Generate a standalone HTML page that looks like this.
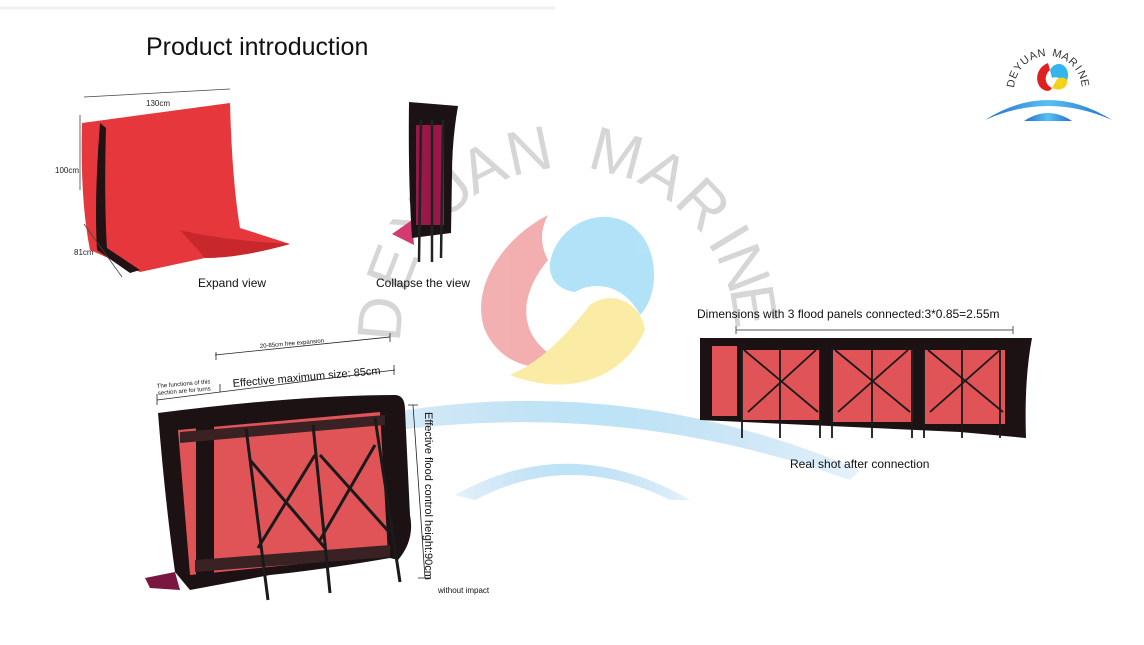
<!DOCTYPE html>
<html><head><meta charset="utf-8"><style>
body{margin:0;background:#fff;width:1144px;height:645px;overflow:hidden}
svg{display:block}
text{font-family:"Liberation Sans",sans-serif}
</style></head><body>
<svg width="1144" height="645" viewBox="0 0 1144 645" xmlns="http://www.w3.org/2000/svg">
<defs>
<linearGradient id="bl" x1="0" x2="1"><stop offset="0" stop-color="#5aa8e0" stop-opacity="0.15"/><stop offset="0.5" stop-color="#8fd0f0" stop-opacity="0.6"/><stop offset="1" stop-color="#5aa8e0" stop-opacity="0.15"/></linearGradient>
<linearGradient id="bl2" x1="0" x2="1"><stop offset="0" stop-color="#1f6fd0"/><stop offset="0.5" stop-color="#5ac0f0"/><stop offset="1" stop-color="#1f6fd0"/></linearGradient>
</defs>
<line x1="0" y1="8" x2="555" y2="8" stroke="#f0f0f0" stroke-width="3"/>
<!-- watermark -->
<g fill="#d6d6d6" font-size="62" text-anchor="middle">
<text x="568" y="168" transform="rotate(-85 568 335)">D</text>
<text x="568" y="168" transform="rotate(-69 568 335)">E</text>
<text x="568" y="168" transform="rotate(-53 568 335)">Y</text>
<text x="568" y="168" transform="rotate(-40 568 335)">U</text>
<text x="568" y="168" transform="rotate(-27 568 335)">A</text>
<text x="568" y="168" transform="rotate(-12 568 335)">N</text>
<text x="568" y="168" transform="rotate(15 568 335)">M</text>
<text x="568" y="168" transform="rotate(31 568 335)">A</text>
<text x="568" y="168" transform="rotate(46 568 335)">R</text>
<text x="568" y="168" transform="rotate(59 568 335)">I</text>
<text x="568" y="168" transform="rotate(69 568 335)">N</text>
<text x="568" y="168" transform="rotate(81 568 335)">E</text>
</g>
<!-- logo watermark -->
<g opacity="0.4">
<path d="M548 215 C500 240 470 290 485 330 C500 365 540 375 560 360 C520 340 515 300 548 260 C540 245 540 230 548 215Z" fill="#e23a3a"/>
<path d="M550 262 C560 215 620 200 645 240 C660 265 655 300 640 315 C625 285 595 280 575 292 C560 290 548 280 550 262Z" fill="#3fb8ee"/>
<path d="M510 375 C560 395 620 385 645 330 C640 300 610 290 590 305 C570 330 545 360 510 375Z" fill="#f5d020"/>
</g>
<path d="M330 425 Q600 360 860 470 L850 480 Q600 390 335 440Z" fill="url(#bl)"/>
<path d="M455 495 Q570 430 690 500 L670 500 Q570 450 475 500Z" fill="url(#bl)"/>
<!-- title -->
<text x="146" y="55" font-size="25" fill="#111">Product introduction</text>
<!-- top logo -->
<g font-size="11" fill="#333" text-anchor="middle">
<text x="1048" y="56" transform="rotate(-80 1048 90)">D</text>
<text x="1048" y="56" transform="rotate(-66 1048 90)">E</text>
<text x="1048" y="56" transform="rotate(-52 1048 90)">Y</text>
<text x="1048" y="56" transform="rotate(-38 1048 90)">U</text>
<text x="1048" y="56" transform="rotate(-24 1048 90)">A</text>
<text x="1048" y="56" transform="rotate(-10 1048 90)">N</text>
<text x="1048" y="56" transform="rotate(14 1048 90)">M</text>
<text x="1048" y="56" transform="rotate(28 1048 90)">A</text>
<text x="1048" y="56" transform="rotate(42 1048 90)">R</text>
<text x="1048" y="56" transform="rotate(54 1048 90)">I</text>
<text x="1048" y="56" transform="rotate(66 1048 90)">N</text>
<text x="1048" y="56" transform="rotate(79 1048 90)">E</text>
</g>
<path d="M1048 63 C1038 67 1034 78 1040 87 C1045 92 1050 92 1052 88 C1044 84 1044 75 1050 70Z" fill="#e02020"/>
<path d="M1050 70 C1055 60 1068 63 1068 75 C1068 80 1066 83 1064 84 C1062 78 1056 76 1052 78Z" fill="#35b5ec"/>
<path d="M1052 88 C1060 92 1068 88 1067 80 C1064 76 1058 77 1056 81Z" fill="#f2d21a"/>
<path d="M985 120 Q1048 80 1112 120 Q1048 92 985 120Z" fill="url(#bl2)"/>
<path d="M1024 121 Q1048 105 1072 121Z" fill="url(#bl2)"/>
<!-- expand view -->
<path d="M82 123 L230 103 Q232 180 240 228 L290 244 Q240 258 205 258 L140 272 L90 250 Q80 200 82 123Z" fill="#e6383c"/>
<path d="M100 123 L106 128 Q104 200 107 248 L140 270 L130 273 L97 250 Q94 200 100 123Z" fill="#221214"/>
<path d="M180 230 Q220 240 290 244 Q240 258 205 258 Z" fill="#c8282c"/>
<g stroke="#444" stroke-width="0.8" fill="none">
<path d="M84 97 L230 89"/><path d="M80 115 L80 190"/><path d="M84 224 L122 277"/>
</g>
<g font-size="8" fill="#222"><text x="146" y="106">130cm</text><text x="55" y="173">100cm</text><text x="74" y="255">81cm</text></g>
<text x="198" y="287" font-size="12" fill="#111">Expand view</text>
<!-- collapse -->
<path d="M392 234 L412 220 L414 245 Z" fill="#d43a72"/>
<path d="M409 102 L458 106 Q452 140 452 175 L451 233 L412 238 Q408 180 409 102Z" fill="#1a1214"/>
<rect x="416" y="125" width="28" height="100" fill="#9a1848"/>
<g stroke="#222" stroke-width="2.5"><line x1="421" y1="120" x2="419" y2="262"/><line x1="432" y1="120" x2="432" y2="262"/><line x1="443" y1="120" x2="441" y2="258"/></g>
<text x="376" y="287" font-size="12" fill="#111">Collapse the view</text>
<!-- big panel -->
<g stroke="#222" stroke-width="0.8" fill="none">
<path d="M215 355 L390 337"/><path d="M216 352 L216 360"/><path d="M390 333 L390 342"/>
<path d="M157 400 L395 370"/><path d="M157 394 L157 405"/><path d="M220 384 L220 392"/><path d="M394 365 L394 375"/>
<path d="M408 405 L418 405 M413 405 L425 578 M418 578 L431 578"/>
</g>
<text x="260" y="348" font-size="6" fill="#111" transform="rotate(-5 260 348)">20-85cm free expansion</text>
<text x="157" y="388" font-size="6" fill="#111" transform="rotate(-5 157 388)">The functions of this</text>
<text x="158" y="395" font-size="6" fill="#111" transform="rotate(-5 158 395)">section are for turns</text>
<text x="233" y="387" font-size="11" fill="#111" transform="rotate(-5 233 387)">Effective maximum size: 85cm</text>
<text x="425" y="412" font-size="11" fill="#111" transform="rotate(90 425 412)">Effective flood control height:90cm</text>
<text x="438" y="593" font-size="8" fill="#111">without impact</text>
<path d="M145 578 L175 572 L180 590 L150 588Z" fill="#7a1640"/>
<path d="M158 413 Q300 395 395 395 Q405 395 405 410 L410 515 Q415 540 398 560 L390 558 Q320 570 270 575 L190 590 L175 572 Q165 500 158 413Z" fill="#1c1214"/>
<path d="M178 430 L380 412 L388 555 L190 575 Z" fill="#e05458"/>
<rect x="196" y="425" width="18" height="150" fill="#1c1214"/>
<path d="M180 432 L385 415 L385 425 L180 443Z" fill="#3a2224"/>
<path d="M195 560 L390 545 L390 557 L195 572Z" fill="#3a2224"/>
<g stroke="#1a1a1a" stroke-width="3">
<line x1="246" y1="428" x2="268" y2="600"/><line x1="313" y1="425" x2="330" y2="593"/><line x1="375" y1="418" x2="400" y2="582"/>
<line x1="250" y1="460" x2="325" y2="548"/><line x1="315" y1="455" x2="258" y2="548"/>
<line x1="320" y1="455" x2="390" y2="533"/><line x1="375" y1="445" x2="320" y2="540"/>
</g>
<!-- right panel -->
<path d="M700 338 L1032 338 Q1024 380 1026 438 L960 432 L700 420Z" fill="#1c1214"/>
<rect x="712" y="346" width="25" height="70" fill="#e05458"/>
<rect x="742" y="350" width="78" height="70" fill="#e05458"/>
<rect x="833" y="350" width="80" height="72" fill="#e05458"/>
<rect x="925" y="350" width="80" height="74" fill="#e05458"/>
<g stroke="#1a1a1a" stroke-width="1.8">
<line x1="744" y1="350" x2="818" y2="412"/><line x1="816" y1="350" x2="748" y2="412"/>
<line x1="835" y1="350" x2="910" y2="412"/><line x1="908" y1="350" x2="838" y2="412"/>
<line x1="928" y1="350" x2="1003" y2="412"/><line x1="1000" y1="350" x2="930" y2="412"/>
<line x1="742" y1="348" x2="742" y2="438"/><line x1="780" y1="348" x2="780" y2="438"/><line x1="820" y1="348" x2="820" y2="438"/>
<line x1="832" y1="348" x2="832" y2="438"/><line x1="872" y1="348" x2="872" y2="438"/><line x1="912" y1="348" x2="912" y2="438"/>
<line x1="924" y1="348" x2="924" y2="438"/><line x1="962" y1="348" x2="962" y2="438"/><line x1="1000" y1="348" x2="1000" y2="438"/>
</g>
<g stroke="#555" stroke-width="1" fill="none"><path d="M736 330 L1013 330"/><path d="M736 326 L736 334"/><path d="M1013 326 L1013 334"/></g>
<text x="697" y="318" font-size="12" fill="#111">Dimensions with 3 flood panels connected:3*0.85=2.55m</text>
<text x="790" y="468" font-size="12" fill="#111">Real shot after connection</text>
</svg>
</body></html>
